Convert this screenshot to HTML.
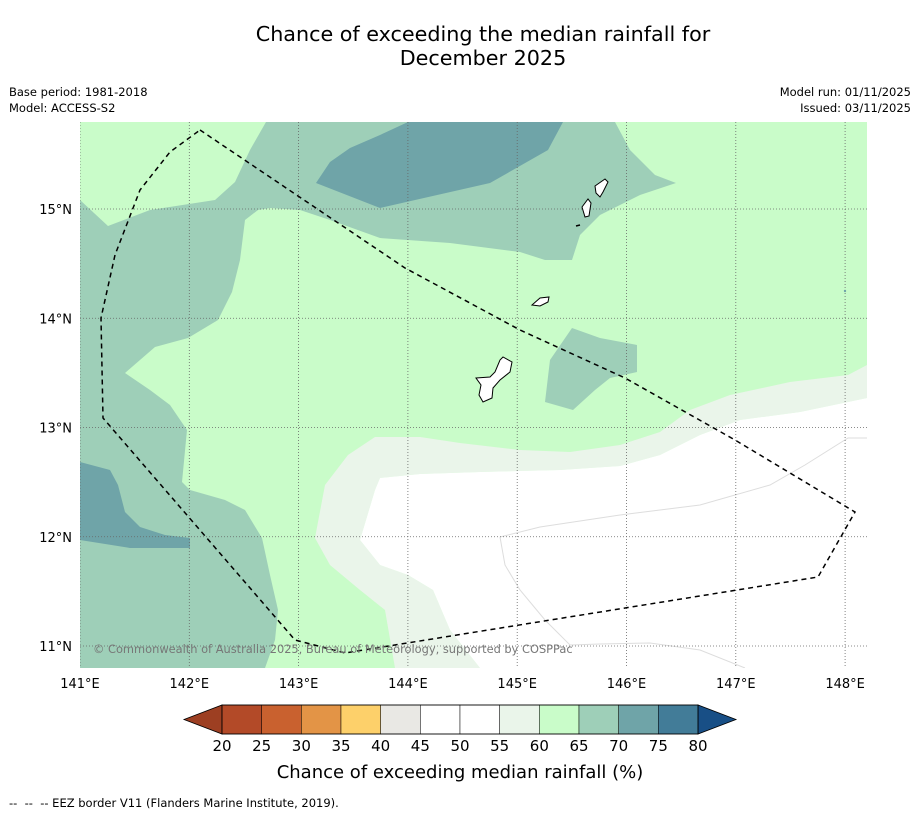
<!DOCTYPE html>
<html><head><meta charset="utf-8"><style>
body{margin:0;background:#fff;font-family:"Liberation Sans","DejaVu Sans",sans-serif;}
#wrap{position:relative;width:919px;height:816px;overflow:hidden;}
.t{position:absolute;white-space:nowrap;color:#000;}
</style></head><body>
<div id="wrap">
<div class="t" style="left:0;width:966px;top:22px;text-align:center;font-size:20.7px;line-height:24px;font-family:'DejaVu Sans',sans-serif;">Chance of exceeding the median rainfall for<br>December 2025</div>
<div class="t" style="left:9px;top:84px;font-size:11.5px;line-height:16px;font-family:'DejaVu Sans',sans-serif;">Base period: 1981-2018<br>Model: ACCESS-S2</div>
<div class="t" style="right:8px;top:84px;font-size:11.5px;line-height:16px;text-align:right;font-family:'DejaVu Sans',sans-serif;">Model run: 01/11/2025<br>Issued: 03/11/2025</div>
<div class="t" style="left:9px;top:796px;font-size:11.5px;font-family:'DejaVu Sans',sans-serif;">--&nbsp; --&nbsp; -- EEZ border V11 (Flanders Marine Institute, 2019).</div>
<svg id="svg" width="919" height="816" style="position:absolute;left:0;top:0" font-family="DejaVu Sans, Liberation Sans, sans-serif">
<defs><clipPath id="mc"><rect x="80" y="122" width="787" height="546"/></clipPath></defs>
<g clip-path="url(#mc)">
<rect x="80" y="122" width="787" height="546" fill="#c9fcc9"/>
<polygon fill="#9ecfb8" points="266,122 615,122 630,150 655,175 676,183 640,195 600,215 580,235 572,260 545,260 520,252 450,243 380,238 330,220 300,210 270,208 258,210 245,220 240,260 232,292 218,320 188,338 155,347 125,373 150,390 170,405 187,430 182,482 190,490 225,500 245,510 262,538 270,575 278,610 275,640 265,668 80,668 80,200 108,226 150,210 215,200 235,182 250,150"/>
<polygon fill="#6fa4a8" points="408,122 563,122 548,150 490,183 380,208 316,183 330,162 350,148 380,135"/>
<polygon fill="#6fa4a8" points="80,462 110,470 118,485 125,512 140,527 165,535 190,538 190,548 130,548 80,540"/>
<polygon fill="#9ecfb8" points="572,328 600,338 637,345 637,372 610,378 595,390 573,410 545,402 550,360"/>
<polygon fill="#eaf5ea" points="315,538 325,485 348,455 375,437 420,437 460,443 520,450 570,452 620,445 660,432 690,410 730,395 790,382 848,375 867,365 867,398 848,402 800,412 740,420 700,435 660,455 620,466 560,470 480,472 420,474 380,478 375,490 360,540 380,565 408,575 433,590 450,630 480,668 395,668 385,610 360,590 330,565"/>
<polygon fill="#ffffff" points="380,478 420,474 480,472 560,470 620,466 660,455 700,435 740,420 800,412 848,402 867,398 867,668 480,668 450,630 433,590 408,575 380,565 360,540 375,490"/>
<polyline fill="none" stroke="#ddd" stroke-width="1" points="500,537 540,527 620,515 700,505 770,485 805,465 848,438 867,438"/>
<polyline fill="none" stroke="#ddd" stroke-width="1" points="500,537 505,565 520,590 545,620 570,645 600,644 650,643 700,650 745,668"/>
<g id="grid"></g>
<path fill="#fff" stroke="#000" stroke-width="1" d="M476,378 L490,377 L495,372 L500,360 L503,357 L512,362 L510,372 L500,380 L493,388 L492,398 L483,402 L479,395 L481,385 Z"/>
<path fill="#fff" stroke="#000" stroke-width="1" d="M532,305 L540,298 L549,297 L548,302 L540,306 Z"/>
<path fill="#fff" stroke="#000" stroke-width="1" d="M582,207 L588,199 L591,203 L589,216 L585,217 Z M595,186 L605,179 L608,182 L603,192 L600,197 L596,193 Z"/>
<line x1="576" y1="226" x2="580" y2="225" stroke="#000" stroke-width="1.5"/>
<circle cx="845" cy="291" r="1.2" fill="#6fa4a8"/>
<polyline fill="none" stroke="#000" stroke-width="1.5" stroke-dasharray="5,4" points="200,130 405,268 520,330 625,378 735,440 855,512 818,577 345,653 295,640 103,418 101,318 115,255 140,190 170,152 200,130"/>
<text x="93" y="653" font-size="11.4" fill="#777">© Commonwealth of Australia 2025, Bureau of Meteorology, supported by COSPPac</text>
</g>
<g id="axes"></g>
<g id="cbar"></g>
<text x="460" y="778" font-size="18" text-anchor="middle">Chance of exceeding median rainfall (%)</text>
</svg>
</div>
<script>
const lonTicks=[141,142,143,144,145,146,147,148];
const latTicks=[15,14,13,12,11];
const cbLevels=[20,25,30,35,40,45,50,55,60,65,70,75,80];
const cbColors=["#b34a28","#c9612f","#e39446","#fdd06a","#e9e8e4","#ffffff","#ffffff","#eaf5ea","#c9fcc9","#9ecfb8","#6fa4a8","#427c98"];
const cbUnder="#9d3f22", cbOver="#184f86";
const NS="http://www.w3.org/2000/svg";
const xLon=l=>80+(l-141)*109.3;
const yLat=l=>209+(15-l)*109.25;
function mk(tag,attrs,parent){const e=document.createElementNS(NS,tag);for(const k in attrs)e.setAttribute(k,attrs[k]);parent.appendChild(e);return e;}
const grid=document.getElementById('grid'),axes=document.getElementById('axes'),cb=document.getElementById('cbar');
lonTicks.forEach(l=>{const x=xLon(l);
 const g=mk('line',{x1:x,y1:122,x2:x,y2:668,stroke:'#666','stroke-width':0.8,'stroke-dasharray':'1,2'},grid);
 
 
 const t=mk('text',{x:x,y:688,'font-size':13,'text-anchor':'middle'},axes);t.textContent=l+'°E';
 
 });
latTicks.forEach(l=>{const y=yLat(l);
 const g=mk('line',{x1:80,y1:y,x2:867,y2:y,stroke:'#666','stroke-width':0.8,'stroke-dasharray':'1,2'},grid);
 
 
 const t=mk('text',{x:72,y:y+5,'font-size':13,'text-anchor':'end'},axes);t.textContent=l+'°N';
 
 });
const cx0=222,cx1=698,cy0=705,cy1=734,n=cbColors.length,w=(cx1-cx0)/n;
const lt=mk('polygon',{points:`184,${(cy0+cy1)/2} ${cx0},${cy0} ${cx0},${cy1}`,fill:cbUnder,stroke:'#000','stroke-width':0.8},cb);


const rt=mk('polygon',{points:`736,${(cy0+cy1)/2} ${cx1},${cy0} ${cx1},${cy1}`,fill:cbOver,stroke:'#000','stroke-width':0.8},cb);


cbColors.forEach((c,i)=>{const r=mk('rect',{x:cx0+i*w,y:cy0,width:w,height:cy1-cy0,fill:c,stroke:'#000','stroke-width':0.5},cb);
 
 });
mk('rect',{x:cx0,y:cy0,width:cx1-cx0,height:cy1-cy0,fill:'none',stroke:'#000','stroke-width':0.8},cb);
cbLevels.forEach((v,i)=>{const t=mk('text',{x:cx0+i*w,y:751,'font-size':15,'text-anchor':'middle'},cb);t.textContent=v;
 
 });
</script>
</body></html>
